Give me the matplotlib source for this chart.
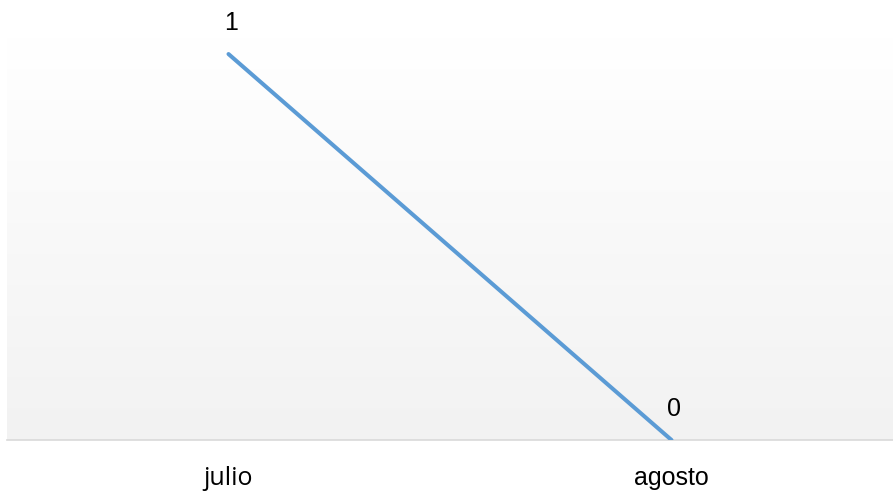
import numpy as np
import matplotlib.pyplot as plt

# data
months = ['julio', 'agosto']
values = [1, 0]
month_fonts = ['Open Sans', 'Liberation Sans']

fig = plt.figure(figsize=(8.93, 5.02), dpi=100)
ax = fig.add_axes([7 / 893, (502 - 441) / 502, 886 / 893, (441 - 38) / 502])

# vertical gradient background, white at top to light gray at bottom
grad = np.linspace(0, 1, 256).reshape(-1, 1)
top = np.array([1.0, 1.0, 1.0])
bottom = np.array([0xf2, 0xf2, 0xf2]) / 255.0
img = top + (bottom - top) * grad[:, :, None]
ax.imshow(img, extent=[0, 1, 0, 1], transform=ax.transAxes,
          aspect='auto', zorder=0, origin='upper')

x = np.arange(len(months))
ax.plot(x, values, color='#5b9bd5', linewidth=2.9, solid_capstyle='round', zorder=3)

for xi, v in zip(x, values):
    ax.annotate(str(v), (xi, v), xytext=(2, 14.5), textcoords='offset points',
                ha='center', va='bottom', fontsize=18,
                family='Liberation Sans', color='#000000', zorder=4)

ax.set_xlim(-0.5, len(months) - 0.5)
ax.set_ylim(0, 1.0 + 17 / 385)

ax.set_xticks(x)
ax.set_xticklabels([])
for xi, m, f in zip(x, months, month_fonts):
    ax.annotate(m, (xi, 0), xytext=(0, -18), textcoords='offset points',
                ha='center', va='top', fontsize=18, family=f,
                color='#000000', annotation_clip=False)
ax.tick_params(length=0)
ax.set_yticks([])

for s in ['top', 'right', 'left']:
    ax.spines[s].set_visible(False)
ax.spines['bottom'].set_color('#d9d9d9')
ax.spines['bottom'].set_linewidth(1.2)
ax.spines['bottom'].set_zorder(2)

fig.savefig('out.png', dpi=100)
